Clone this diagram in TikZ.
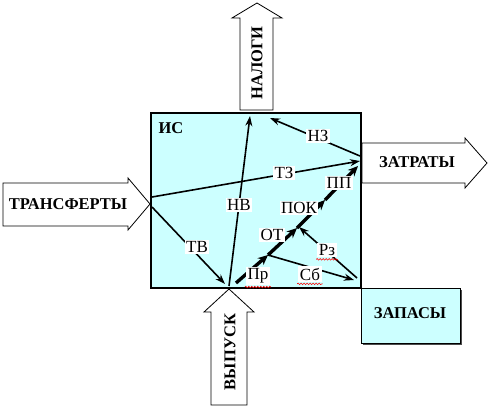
\documentclass[tikz,border=0pt]{standalone}
\usepackage{fontspec}
\setmainfont{Liberation Serif}
\usetikzlibrary{arrows.meta,decorations.pathmorphing}
\definecolor{lightcyan}{HTML}{CCFFFF}
\begin{document}
\begin{tikzpicture}[x=1pt,y=-1pt,
  blockarrow/.style={draw=black,fill=white,line width=0.8pt},
  bigtext/.style={font=\fontsize{16.5}{18}\selectfont\bfseries},
  lbl/.style={fill=white,inner sep=1.5pt,font=\fontsize{17}{19}\selectfont},
  flow/.style={line width=1.6pt,-{Stealth[length=10pt,width=7pt]}},
  thickflow/.style={line width=3.4pt,-{Stealth[length=10pt,width=9pt]}},
  spell/.style={red,line width=0.6pt,decorate,decoration={snake,amplitude=0.8pt,segment length=3pt}}]
\useasboundingbox (0,0) rectangle (490,408);
% main box
\draw[fill=lightcyan,line width=2.2pt] (151,113) rectangle (361,288);
\node[bigtext] (is) at (171,128) {ИС};
% stock box
\fill[black!70] (362.5,289.5) rectangle (461.5,344.5);
\draw[fill=lightcyan,line width=1pt] (361,288) rectangle (460,343);
\node[bigtext] (zapasy) at (410,313) {ЗАПАСЫ};
% block arrows
\draw[blockarrow] (3,183) -- (128,183) -- (128,178) -- (150,204) -- (128,230) -- (128,226) -- (3,226) -- cycle;
\node[bigtext] (transf) at (68,204) {ТРАНСФЕРТЫ};
\draw[blockarrow] (362,143) -- (465,143) -- (465,138) -- (487,163) -- (465,188) -- (465,183) -- (362,183) -- cycle;
\node[bigtext] (zatraty) at (417,162) {ЗАТРАТЫ};
\draw[blockarrow] (240,110) -- (240,18) -- (232,18) -- (257,3) -- (282,18) -- (273,18) -- (273,110) -- cycle;
\node[bigtext,rotate=90] (nalogi) at (257,63) {НАЛОГИ};
\draw[blockarrow] (211,405) -- (211,312) -- (204,312) -- (229,289) -- (254,312) -- (247,312) -- (247,405) -- cycle;
\node[bigtext,rotate=90] (vypusk) at (230,352) {ВЫПУСК};
% connector end points
\coordinate (vtip) at (229,286);
\coordinate (nvtop) at (250,116);
\coordinate (trL) at (152,207);
\coordinate (tzL) at (152,197);
\coordinate (tvend) at (225,284);
\coordinate (tzend) at (360,161);
\coordinate (nzs) at (360,156);
\coordinate (nzend) at (270,118);
\coordinate (c0) at (236,283);
\coordinate (c1) at (268,255);
\coordinate (c2) at (297,228);
\coordinate (c3) at (325,200);
\coordinate (c4) at (358,166);
\coordinate (rzs) at (357,278);
\coordinate (rzend) at (299,227);
\coordinate (sbend) at (354,280);
% thin arrows
\draw[flow] (vtip) -- (nvtop);
\draw[flow] (trL) -- (tvend);
\draw[flow] (tzL) -- (tzend);
\draw[flow] (nzs) -- (nzend);
\draw[flow] (rzs) -- (rzend);
\draw[flow] (c1) -- (sbend);
% thick chain
\draw[thickflow] (c0) -- (c1);
\draw[thickflow] (c1) -- (c2);
\draw[thickflow] (c2) -- (c3);
\draw[thickflow] (c3) -- (c4);
% labels
\node[lbl] (nv) at (239,205) {НВ};
\node[lbl] (tv) at (197,247) {ТВ};
\node[lbl] (tz) at (284,173) {ТЗ};
\node[lbl] (nz) at (318,136) {НЗ};
\node[lbl] (pp) at (339,183) {ПП};
\node[lbl] (pok) at (299,208) {ПОК};
\node[lbl] (ot) at (272,235) {ОТ};
\node[lbl] (rz) at (327,250) {Рз};
\node[lbl] (sb) at (310,274) {Сб};
\node[lbl] (pr) at (258,276) {Пр};
\draw[spell] ([xshift=-1pt,yshift=-2pt]rz.south west) -- ([xshift=1pt,yshift=-2pt]rz.south east);
\draw[spell] ([xshift=-1pt,yshift=-2pt]sb.south west) -- ([xshift=1pt,yshift=-2pt]sb.south east);
\draw[spell] ([xshift=-1pt,yshift=-2pt]pr.south west) -- ([xshift=1pt,yshift=-2pt]pr.south east);
\end{tikzpicture}
\end{document}
